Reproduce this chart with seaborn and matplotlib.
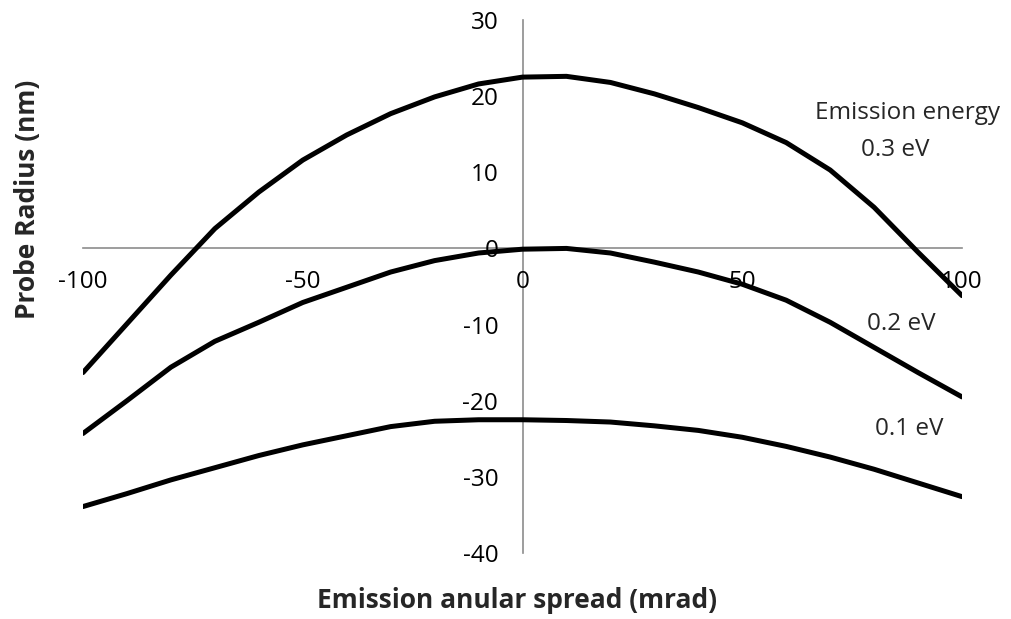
import pandas as pd
import matplotlib.pyplot as plt
import seaborn as sns

# Values
spread = [-100, -90, -80, -70, -60, -50, -40, -30, -20, -10, 0,
          10, 20, 30, 40, 50, 60, 70, 80, 90, 100]
radius_03 = [-16.3, -9.9, -3.5, 2.6, 7.4, 11.6, 14.9, 17.7, 19.9, 21.6, 22.5,
             22.6, 21.8, 20.3, 18.5, 16.5, 13.9, 10.3, 5.4, -0.5, -6.2]
radius_02 = [-24.3, -20.0, -15.6, -12.2, -9.7, -7.1, -5.1, -3.1, -1.6, -0.6, -0.1,
             0.0, -0.6, -1.8, -3.1, -4.7, -6.8, -9.7, -13.0, -16.3, -19.5]
radius_01 = [-33.9, -32.2, -30.4, -28.8, -27.2, -25.8, -24.6, -23.4, -22.7, -22.5, -22.5,
             -22.6, -22.8, -23.3, -23.9, -24.8, -26.0, -27.4, -29.0, -30.8, -32.6]
energies = ['0.3 eV', '0.2 eV', '0.1 eV']

df = pd.concat([
    pd.DataFrame({'spread': spread, 'radius': r, 'energy': e})
    for r, e in zip([radius_03, radius_02, radius_01], energies)
])

sns.set_theme(style='white')
plt.rcParams['font.family'] = ['Open Sans', 'DejaVu Sans']
plt.rcParams['axes.unicode_minus'] = False

fig = plt.figure(figsize=(10.11, 6.19), dpi=100)
ax = fig.add_axes([83 / 1011, 1 - 553 / 619, (962 - 83) / 1011, (553 - 20) / 619])

sns.lineplot(data=df, x='spread', y='radius', hue='energy', sort=False,
             palette=['black'] * 3, linewidth=3.6, legend=False, ax=ax)
for line in ax.lines:
    line.set_solid_joinstyle('round')
    line.set_solid_capstyle('round')

ax.set_xlim(-100, 100)
ax.set_ylim(-40, 30)
ax.set_xticks([-100, -50, 0, 50, 100])
ax.set_yticks(range(-40, 31, 10))

# Excel-style axes crossing at the origin
for side in ['top', 'right']:
    ax.spines[side].set_visible(False)
for side in ['left', 'bottom']:
    ax.spines[side].set_position(('data', 0))
    ax.spines[side].set_color('#8c8c8c')
    ax.spines[side].set_linewidth(1.2)
    ax.spines[side].set_zorder(0)
ax.tick_params(axis='both', direction='out', length=6.5, width=1.2, color='#8c8c8c',
               labelsize=17.5, labelcolor='black')
ax.tick_params(axis='y', pad=11)
ax.tick_params(axis='x', pad=9)
ax.set_xlabel('')
ax.set_ylabel('')

fig.text(28 / 1011, 1 - 199 / 619, 'Probe Radius (nm)', rotation=90, fontsize=19,
         fontweight='bold', ha='center', va='center')
fig.text(517 / 1011, 1 - 600 / 619, 'Emission anular spread (mrad)', fontsize=19,
         fontweight='bold', ha='center', va='center')

ax.text(87.6, 17.8, 'Emission energy', fontsize=17.5, ha='center', va='center')
ax.text(84.9, 12.9, '0.3 eV', fontsize=17.5, ha='center', va='center')
ax.text(86.2, -9.9, '0.2 eV', fontsize=17.5, ha='center', va='center')
ax.text(88.1, -23.7, '0.1 eV', fontsize=17.5, ha='center', va='center')

fig.savefig('out.png', dpi=100)
